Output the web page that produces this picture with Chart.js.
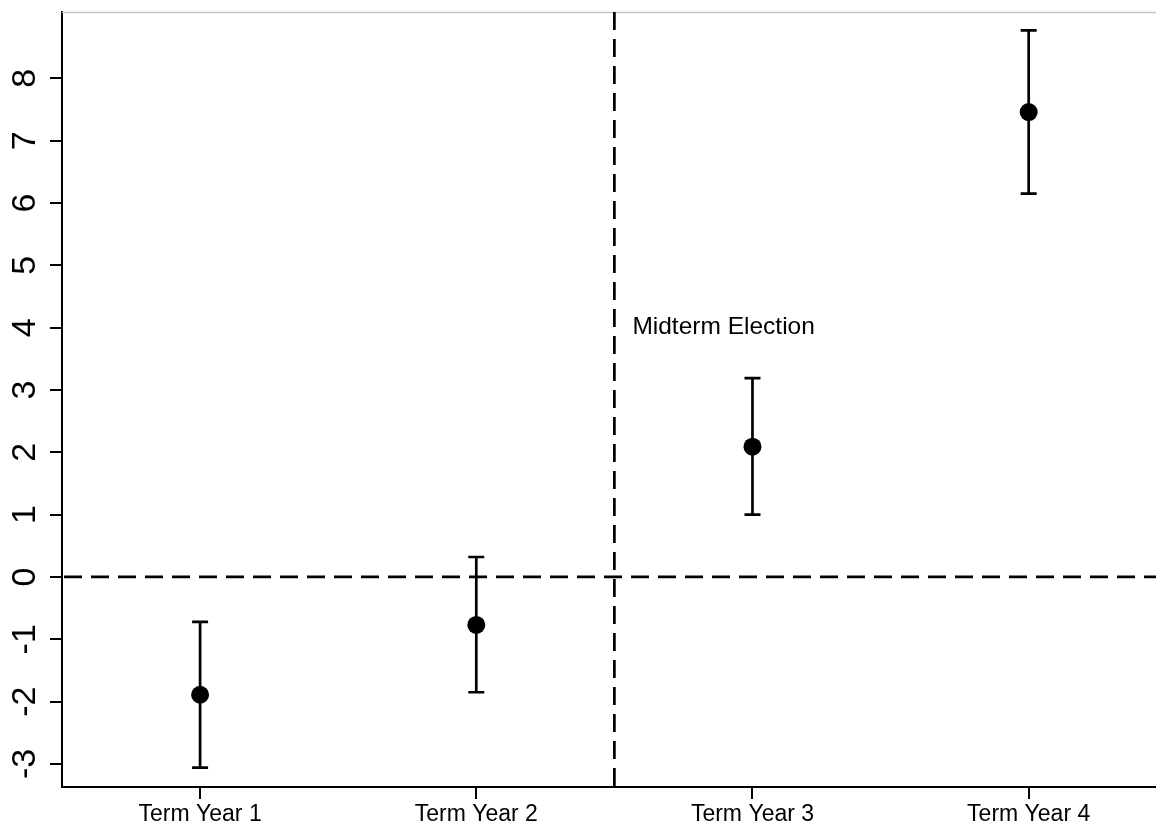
<!DOCTYPE html>
<html>
<head>
<meta charset="utf-8">
<script src="https://cdn.jsdelivr.net/npm/chart.js@4.4.1/dist/chart.umd.min.js"></script>
<style>
  html, body { margin: 0; padding: 0; background: #fff; }
  #wrap { width: 1156px; height: 826px; }
</style>
</head>
<body>
<div id="wrap"><canvas id="c" width="1156" height="826"></canvas></div>
<script>
// Term-year effects with 95% confidence intervals
const categories = ['Term Year 1', 'Term Year 2', 'Term Year 3', 'Term Year 4'];
const estimates  = [-1.89, -0.77, 2.09, 7.46];
const lowerCI    = [-3.06, -1.85, 1.00, 6.15];
const upperCI    = [-0.72, 0.32, 3.19, 8.77];
const yTickValues = [-3, -2, -1, 0, 1, 2, 3, 4, 5, 6, 7, 8];
const midtermPosition = 2.5;
const midtermLabel = 'Midterm Election';

const FONT = "'Liberation Sans', Arial, Helvetica, sans-serif";

const points = estimates.map((v, i) => ({ x: i + 1, y: v }));

// Reference lines, error bars, rotated y labels and frame
const overlay = {
  id: 'overlay',
  beforeDatasetsDraw(chart) {
    const { ctx, chartArea: a, scales: { x, y } } = chart;
    ctx.save();
    // light frame line along the top
    ctx.strokeStyle = '#c4c4c4';
    ctx.lineWidth = 1.5;
    ctx.beginPath();
    ctx.moveTo(a.left, a.top + 0.5);
    ctx.lineTo(a.right, a.top + 0.5);
    ctx.stroke();

    // dashed zero line and midterm divider
    ctx.strokeStyle = '#000';
    ctx.lineWidth = 2.7;
    ctx.setLineDash([18, 9]);
    const y0 = y.getPixelForValue(0);
    ctx.beginPath();
    ctx.moveTo(a.left + 2, y0);
    ctx.lineTo(a.right, y0);
    ctx.stroke();
    const xm = x.getPixelForValue(midtermPosition);
    ctx.beginPath();
    ctx.moveTo(xm, a.top);
    ctx.lineTo(xm, a.bottom);
    ctx.stroke();
    ctx.setLineDash([]);

    // confidence interval whiskers
    ctx.lineWidth = 2.7;
    ctx.lineCap = 'butt';
    for (let i = 0; i < estimates.length; i++) {
      const px = x.getPixelForValue(i + 1);
      const lo = y.getPixelForValue(lowerCI[i]);
      const hi = y.getPixelForValue(upperCI[i]);
      ctx.beginPath();
      ctx.moveTo(px, lo); ctx.lineTo(px, hi);
      ctx.moveTo(px - 8, lo); ctx.lineTo(px + 8, lo);
      ctx.moveTo(px - 8, hi); ctx.lineTo(px + 8, hi);
      ctx.stroke();
    }

    // annotation
    ctx.fillStyle = '#000';
    ctx.font = '24.5px ' + FONT;
    ctx.textAlign = 'left';
    ctx.textBaseline = 'middle';
    ctx.fillText(midtermLabel, xm + 18, y.getPixelForValue(4));
    ctx.restore();
  },
  afterDraw(chart) {
    const { ctx, scales: { y } } = chart;
    ctx.save();
    ctx.fillStyle = '#000';
    ctx.font = '34px ' + FONT;
    ctx.textAlign = 'center';
    ctx.textBaseline = 'alphabetic';
    yTickValues.forEach(v => {
      ctx.save();
      ctx.translate(35, y.getPixelForValue(v));
      ctx.rotate(-Math.PI / 2);
      ctx.fillText(String(v), 0, 0);
      ctx.restore();
    });
    ctx.restore();
  }
};

new Chart(document.getElementById('c'), {
  type: 'scatter',
  data: {
    datasets: [{
      data: points,
      backgroundColor: '#000',
      borderColor: '#000',
      pointRadius: 9,
      pointHoverRadius: 9,
      borderWidth: 0
    }]
  },
  options: {
    responsive: false,
    animation: false,
    events: [],
    layout: { autoPadding: false, padding: { top: 12, right: 0, left: 0, bottom: 0 } },
    plugins: { legend: { display: false }, tooltip: { enabled: false } },
    scales: {
      x: {
        type: 'linear',
        min: 0.5,
        max: 4.461,
        afterBuildTicks: s => { s.ticks = categories.map((_, i) => ({ value: i + 1 })); },
        afterFit: s => { s.height = 39; s.paddingLeft = 0; s.paddingRight = 0; },
        border: { display: true, color: '#000', width: 2 },
        grid: { display: true, drawOnChartArea: false, drawTicks: true, tickLength: 12, color: '#000', lineWidth: 2 },
        ticks: {
          color: '#000',
          font: { family: FONT, size: 23 },
          padding: 2,
          maxRotation: 0,
          autoSkip: false,
          callback: v => categories[Math.round(v) - 1] || ''
        }
      },
      y: {
        type: 'linear',
        min: -3.37,
        max: 9.065,
        afterBuildTicks: s => { s.ticks = yTickValues.map(v => ({ value: v })); },
        afterFit: s => { s.width = 62; s.paddingTop = 0; s.paddingBottom = 0; },
        border: { display: true, color: '#000', width: 2 },
        grid: { display: true, drawOnChartArea: false, drawTicks: true, tickLength: 12, color: '#000', lineWidth: 2 },
        ticks: { display: false }
      }
    }
  },
  plugins: [overlay]
});
</script>
</body>
</html>
